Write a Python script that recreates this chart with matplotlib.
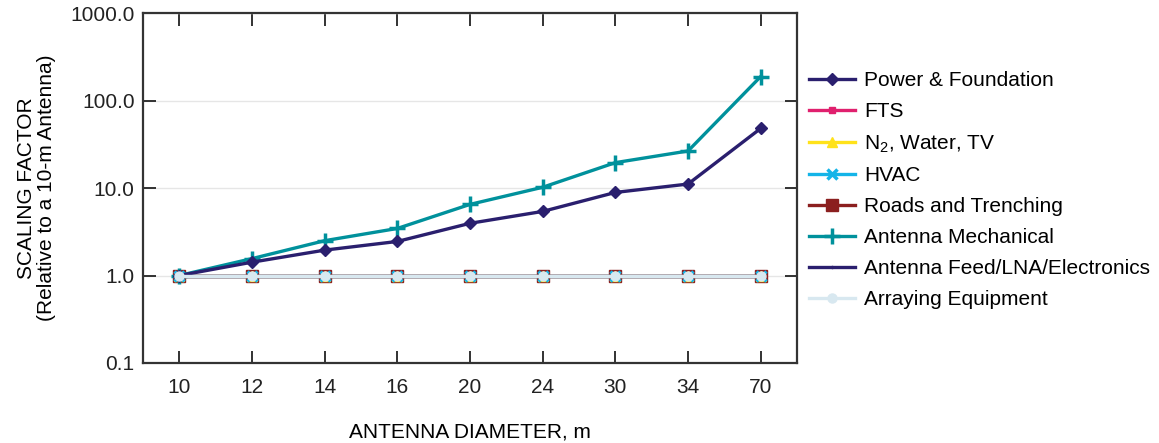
import matplotlib
matplotlib.use("Agg")
from matplotlib import pyplot as plt

plt.rcParams['font.family'] = ['Liberation Sans', 'DejaVu Sans']
plt.rcParams['mathtext.fontset'] = 'custom'
plt.rcParams['mathtext.rm'] = 'Liberation Sans'

diameters = ['10', '12', '14', '16', '20', '24', '30', '34', '70']

power_foundation = [1.0, 1.42, 1.95, 2.45, 3.95, 5.4, 8.9, 11.1, 48.0]
fts = [1.0] * 9
n2_water_tv = [1.0] * 9
hvac = [1.0] * 9
roads = [1.0] * 9
antenna_mech = [1.0, 1.56, 2.5, 3.45, 6.5, 10.2, 19.5, 26.5, 188.0]
feed_lna = [1.0] * 9
arraying = [1.0] * 9

y_ticks = [0.1, 1, 10, 100, 1000]
y_tick_labels = ['0.1', '1.0', '10.0', '100.0', '1000.0']

fig = plt.figure(figsize=(11.59, 4.43), dpi=100)
ax = fig.add_axes([0.1234, 0.1806, 0.5643, 0.790])

x = list(range(len(diameters)))
lw = 2.4
ax.plot(x, roads, color='#8b1f1f', marker='s', ms=8.5, lw=lw, label='Roads and Trenching', zorder=2)
ax.plot(x, fts, color='#e0206e', marker='s', ms=5, lw=lw, label='FTS', zorder=2)
ax.plot(x, n2_water_tv, color='#ffe21a', marker='^', ms=7, lw=lw, label=r'N$_\mathregular{2}$, Water, TV', zorder=2)
ax.plot(x, hvac, color='#14b4e8', marker='x', ms=6.5, mew=2.5, lw=lw, label='HVAC', zorder=2)
ax.plot(x, antenna_mech, color='#00919c', marker='+', ms=11, mew=2.5, lw=lw, label='Antenna Mechanical', zorder=4)
ax.plot(x, feed_lna, color='#2a1f6e', marker='.', ms=3, lw=lw, label='Antenna Feed/LNA/Electronics', zorder=2)
ax.plot(x, power_foundation, color='#2a1f6e', marker='D', ms=6.5, lw=lw, label='Power & Foundation', zorder=5)
ax.plot(x, arraying, color='#d8e8f0', marker='o', ms=6.5, lw=lw, label='Arraying Equipment', zorder=6)

ax.set_yscale('log')
ax.set_ylim(0.1, 1000)
ax.set_xlim(-0.5, 8.5)
ax.set_yticks(y_ticks)
ax.set_yticklabels(y_tick_labels)
ax.minorticks_off()
ax.set_xticks(x)
ax.set_xticklabels(diameters)
ax.yaxis.grid(True, color='#e6e6e6', lw=1)
ax.set_axisbelow(True)
ax.tick_params(axis='both', which='both', direction='in', length=9, width=1.3,
               top=True, right=True, labelsize=15, colors='#222222')
ax.tick_params(axis='x', pad=11)
ax.tick_params(axis='y', pad=6)
for s in ax.spines.values():
    s.set_linewidth(1.6)
    s.set_color('#333333')

ax.set_xlabel('ANTENNA DIAMETER, m', fontsize=15, labelpad=18)
ax.set_ylabel('SCALING FACTOR\n(Relative to a 10-m Antenna)', fontsize=15, labelpad=10, linespacing=1.1)

h, l = ax.get_legend_handles_labels()
order = ['Power & Foundation', 'FTS', r'N$_\mathregular{2}$, Water, TV', 'HVAC',
         'Roads and Trenching', 'Antenna Mechanical', 'Antenna Feed/LNA/Electronics',
         'Arraying Equipment']
hd = dict(zip(l, h))
fig.legend([hd[k] for k in order], order, loc='center left',
           bbox_to_anchor=(0.682, 0.571), frameon=False, fontsize=15,
           handlelength=2.2, handletextpad=0.45, labelspacing=0.57)

plt.savefig('out.png', dpi=100)
